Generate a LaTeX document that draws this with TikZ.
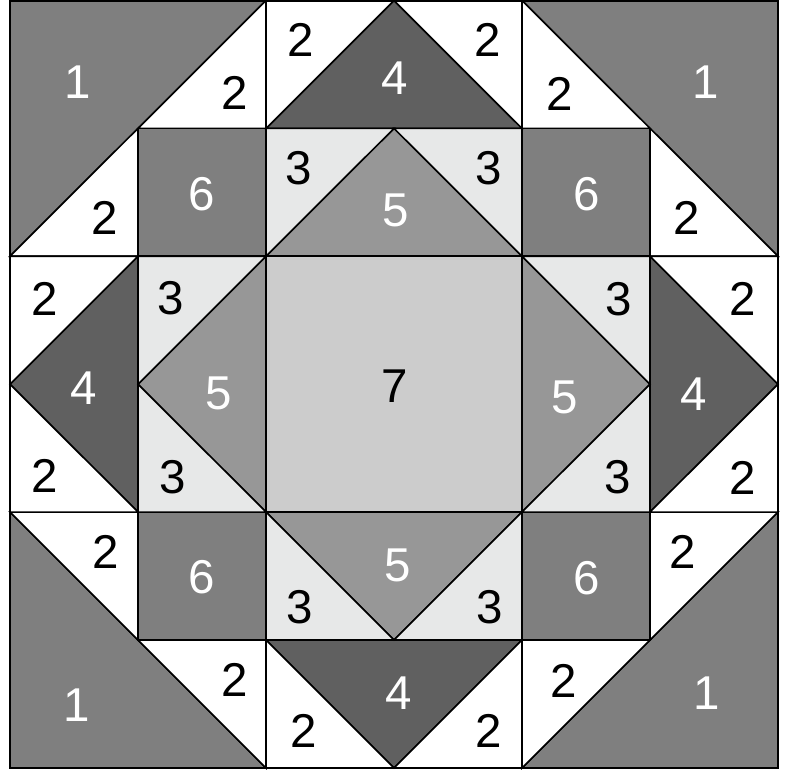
\documentclass[tikz,border=0pt]{standalone}
\usepackage{fontspec}
\setmainfont{Liberation Sans}
\definecolor{cone}{HTML}{7F7F7F}
\definecolor{csix}{HTML}{7F7F7F}
\definecolor{cfour}{HTML}{606060}
\definecolor{cfive}{HTML}{979797}
\definecolor{cthree}{HTML}{E7E8E8}
\definecolor{cseven}{HTML}{CCCCCC}
\begin{document}
\begin{tikzpicture}[x=0.01cm,y=-0.01cm,
  piece/.style={draw=black, line width=0.45pt, line join=miter},
  lw/.style={text=white},
  lb/.style={text=black},
  every node/.style={font=\fontsize{13.5}{16}\selectfont, inner sep=0pt}]
\useasboundingbox (0,0) rectangle (785,771);
\foreach \i in {0,...,6}{\foreach \j in {0,...,6}{\coordinate (g\i\j) at ({10+128*\i},{0.5+127.9*\j});}}
% corners
\filldraw[piece, fill=cone] (g00)--(g20)--(g02)--cycle;
\filldraw[piece, fill=white] (g20)--(g21)--(g11)--cycle;
\filldraw[piece, fill=white] (g02)--(g11)--(g12)--cycle;
\filldraw[piece, fill=csix] (g11) rectangle (g22);
\filldraw[piece, fill=cone] (g40)--(g60)--(g62)--cycle;
\filldraw[piece, fill=white] (g40)--(g41)--(g51)--cycle;
\filldraw[piece, fill=white] (g62)--(g51)--(g52)--cycle;
\filldraw[piece, fill=csix] (g41) rectangle (g52);
\filldraw[piece, fill=cone] (g04)--(g06)--(g26)--cycle;
\filldraw[piece, fill=white] (g04)--(g15)--(g14)--cycle;
\filldraw[piece, fill=white] (g26)--(g25)--(g15)--cycle;
\filldraw[piece, fill=csix] (g14) rectangle (g25);
\filldraw[piece, fill=cone] (g64)--(g66)--(g46)--cycle;
\filldraw[piece, fill=white] (g64)--(g55)--(g54)--cycle;
\filldraw[piece, fill=white] (g46)--(g45)--(g55)--cycle;
\filldraw[piece, fill=csix] (g44) rectangle (g55);
% top
\filldraw[piece, fill=cfour] (g21)--(g41)--(g30)--cycle;
\filldraw[piece, fill=white] (g20)--(g30)--(g21)--cycle;
\filldraw[piece, fill=white] (g30)--(g40)--(g41)--cycle;
\filldraw[piece, fill=cfive] (g22)--(g42)--(g31)--cycle;
\filldraw[piece, fill=cthree] (g21)--(g31)--(g22)--cycle;
\filldraw[piece, fill=cthree] (g31)--(g41)--(g42)--cycle;
% bottom
\filldraw[piece, fill=cfour] (g25)--(g45)--(g36)--cycle;
\filldraw[piece, fill=white] (g26)--(g36)--(g25)--cycle;
\filldraw[piece, fill=white] (g36)--(g46)--(g45)--cycle;
\filldraw[piece, fill=cfive] (g24)--(g44)--(g35)--cycle;
\filldraw[piece, fill=cthree] (g25)--(g35)--(g24)--cycle;
\filldraw[piece, fill=cthree] (g35)--(g45)--(g44)--cycle;
% left
\filldraw[piece, fill=cfour] (g12)--(g14)--(g03)--cycle;
\filldraw[piece, fill=white] (g02)--(g03)--(g12)--cycle;
\filldraw[piece, fill=white] (g03)--(g04)--(g14)--cycle;
\filldraw[piece, fill=cfive] (g22)--(g24)--(g13)--cycle;
\filldraw[piece, fill=cthree] (g12)--(g13)--(g22)--cycle;
\filldraw[piece, fill=cthree] (g13)--(g14)--(g24)--cycle;
% right
\filldraw[piece, fill=cfour] (g52)--(g54)--(g63)--cycle;
\filldraw[piece, fill=white] (g62)--(g63)--(g52)--cycle;
\filldraw[piece, fill=white] (g63)--(g64)--(g54)--cycle;
\filldraw[piece, fill=cfive] (g42)--(g44)--(g53)--cycle;
\filldraw[piece, fill=cthree] (g52)--(g53)--(g42)--cycle;
\filldraw[piece, fill=cthree] (g53)--(g54)--(g44)--cycle;
% center
\filldraw[piece, fill=cseven] (g22) rectangle (g44);
\draw[line width=0.7pt] (g00) rectangle (g66);
% labels row 0
\node[lw] (l1a) at (78,82) {1};
\node[lb] (l2a) at (235,93) {2};
\node[lb] (l2b) at (301,40) {2};
\node[lw] (l4a) at (395,78) {4};
\node[lb] (l2c) at (488,40) {2};
\node[lb] (l2d) at (560,94) {2};
\node[lw] (l1b) at (706,82) {1};
% row 1
\node[lb] (l2e) at (105,218) {2};
\node[lw] (l6a) at (202,194) {6};
\node[lb] (l3a) at (299,168) {3};
\node[lw] (l5a) at (396,210) {5};
\node[lb] (l3b) at (489,168) {3};
\node[lw] (l6b) at (587,194) {6};
\node[lb] (l2f) at (687,218) {2};
% row 2/3
\node[lb] (l2g) at (45,299) {2};
\node[lb] (l3c) at (171,298) {3};
\node[lb] (l3d) at (619,299) {3};
\node[lb] (l2h) at (743,299) {2};
\node[lw] (l4b) at (84,388) {4};
\node[lw] (l5b) at (219,393) {5};
\node[lb] (l7) at (395,386) {7};
\node[lw] (l5c) at (565,397) {5};
\node[lw] (l4c) at (694,394) {4};
\node[lb] (l2i) at (45,476) {2};
\node[lb] (l3e) at (173,477) {3};
\node[lb] (l3f) at (618,477) {3};
\node[lb] (l2j) at (743,478) {2};
% row 4
\node[lb] (l2k) at (106,552) {2};
\node[lw] (l6c) at (202,577) {6};
\node[lw] (l5d) at (398,565) {5};
\node[lb] (l3g) at (300,607) {3};
\node[lb] (l3h) at (490,607) {3};
\node[lw] (l6d) at (587,578) {6};
\node[lb] (l2l) at (683,552) {2};
% row 5
\node[lw] (l1c) at (77,705) {1};
\node[lb] (l2m) at (235,680) {2};
\node[lb] (l2n) at (304,731) {2};
\node[lw] (l4d) at (399,693) {4};
\node[lb] (l2o) at (489,731) {2};
\node[lb] (l2p) at (564,681) {2};
\node[lw] (l1d) at (707,693) {1};
\end{tikzpicture}
\end{document}
